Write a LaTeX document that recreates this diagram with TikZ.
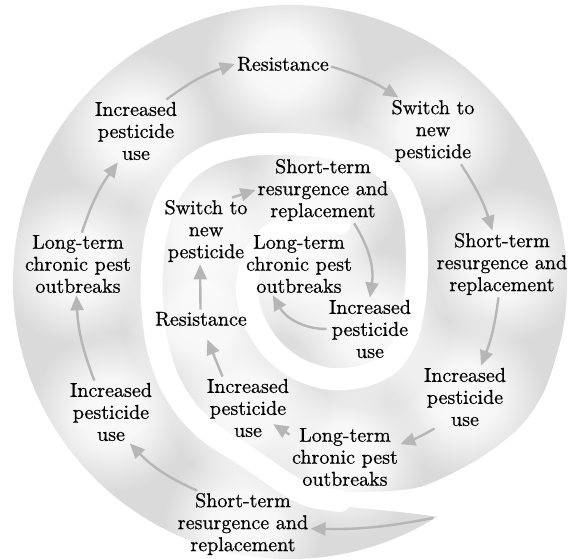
\documentclass[tikz,border=0pt]{standalone}
\usepackage{fontspec}
\newfontfamily\lblfont{Latin Modern Roman}[FakeBold=0.6]
\usepackage{tikz}
\usetikzlibrary{arrows.meta, backgrounds, fadings}

\definecolor{bandgray}{RGB}{218,218,218}
\definecolor{arrowgray}{RGB}{182,182,182}
\pgfdeclareradialshading{glowmask}{\pgfpointorigin}{color(0bp)=(white!85!black); color(8bp)=(white!80!black); color(20bp)=(black); color(50bp)=(black)}
\pgfdeclarefading{glowfade}{\pgfuseshading{glowmask}}

\begin{document}
\begin{tikzpicture}[x=0.5pt, y=0.5pt,
        lbl/.style={align=center, inner sep=1pt, font=\lblfont\fontsize{10pt}{11pt}\selectfont},
        flow/.style={draw=arrowgray, line width=1.2pt, -{Triangle[length=7.5pt, width=6.5pt]}},
        glow/.style={white, path fading=glowfade}]
    \useasboundingbox (0,0) rectangle (570,559);

    \node[lbl] (st1) at (243,35) {Short-term\\resurgence and\\replacement};
    \node[lbl] (inc1) at (111,147) {Increased\\pesticide\\use};
    \node[lbl] (lt1) at (78,295) {Long-term\\chronic pest\\outbreaks};
    \node[lbl] (inc2) at (136,428) {Increased\\pesticide\\use};
    \node[lbl] (res1) at (283,495) {Resistance};
    \node[lbl] (sw1) at (433,428) {Switch to\\new\\pesticide};
    \node[lbl] (st2) at (502,295) {Short-term\\resurgence and\\replacement};
    \node[lbl] (inc3) at (465,162) {Increased\\pesticide\\use};
    \node[lbl] (lt2) at (345,102) {Long-term\\chronic pest\\outbreaks};
    \node[lbl] (inc4) at (248,151) {Increased\\pesticide\\use};
    \node[lbl] (res2) at (201,240) {Resistance};
    \node[lbl] (sw2) at (206,328) {Switch to\\new\\pesticide};
    \node[lbl] (st3) at (323,369) {Short-term\\resurgence and\\replacement};
    \node[lbl] (inc5) at (370,230) {Increased\\pesticide\\use};
    \node[lbl] (lt3) at (299,295) {Long-term\\chronic pest\\outbreaks};
    \coordinate (tail) at (433,41);

    \begin{scope}[on background layer]
        \fill[bandgray] (290,277) circle (277);
        \draw[white, line width=11pt, line cap=round] plot[smooth] coordinates {(340,58) (310,63) (285,76) (262,92) (238,108) (210,126) (186,150) (168,180) (157,215) (152,255) (152,290) (156,325) (166,358) (184,386) (212,405) (250,414) (290,415) (332,411) (372,399) (400,376) (414,341) (417,300) (415,260) (407,222) (390,196) (364,183) (330,180) (298,190) (272,210) (254,238) (247,268) (252,298) (268,322) (294,335) (320,339) (340,336)};
        \fill[white] plot[smooth] coordinates {(561,219) (545,169) (520,132) (477,99) (420,72) (360,67) (300,68)}
            -- plot[smooth] coordinates {(300,57) (350,52) (400,47) (440,42)}
            -- (440,-10) -- (600,-10) -- (600,219) -- cycle;
        \foreach \n in {st1,inc1,lt1,inc2,res1,sw1,st2,inc3,lt2,inc4,res2,sw2,st3,inc5,lt3}
            \fill[glow] (\n.center) circle (100);
    \end{scope}

    \draw[flow] (tail) to[bend left=6] (st1.-4);
    \draw[flow] (st1.144) to[bend left=11] (inc1.-59);
    \draw[flow] (inc1.118) to[bend left=9] (lt1.-93);
    \draw[flow] (lt1.83) to[bend left=9] (inc2.-120);
    \draw[flow] (inc2.46) to[bend left=9] (res1.180);
    \draw[flow] (res1.-3) to[bend left=8] (sw1.136);
    \draw[flow] (sw1.-50) to[bend left=8] (st2.106);
    \draw[flow] (st2.-96) to[bend left=7] (inc3.63);
    \draw[flow] (inc3.-134) to[bend left=5] (lt2.13);
    \draw[flow, shorten >=15pt] (lt2.158) to (inc4.center);
    \draw[flow, shorten >=6pt] (inc4.129) to (res2.-79);
    \draw[flow] (res2.93) to (sw2.-100);
    \draw[flow] (sw2.52) to (st3.180);
    \draw[flow] (st3.-47) to[bend left=20] (inc5.90);
    \draw[flow] (inc5.west) to[out=180, in=-60] (lt3.-130);
\end{tikzpicture}
\end{document}
